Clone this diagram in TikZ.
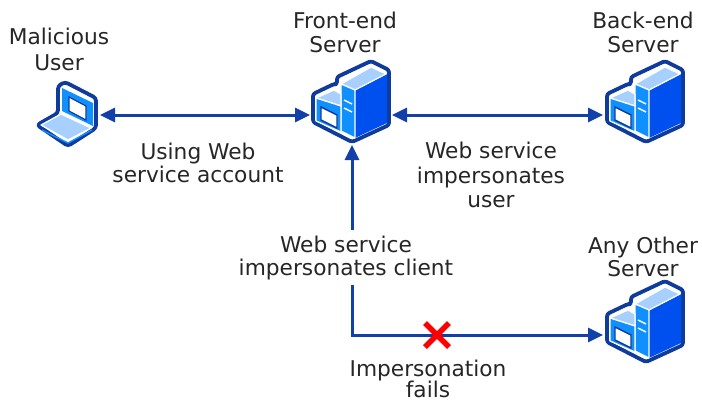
\documentclass[tikz,border=0pt]{standalone}
\usepackage{fontspec}
\setmainfont{DejaVu Sans}
\usetikzlibrary{arrows.meta}
\definecolor{navy}{HTML}{0F3C9C}
\definecolor{wire}{HTML}{1040A8}
\definecolor{sky}{HTML}{A8D0FF}
\definecolor{mid}{HTML}{1090FF}
\definecolor{deep}{HTML}{0050F0}
\tikzset{
  lbl/.style={font=\fontsize{21.7pt}{23.6pt}\selectfont,align=center,text=black!85,inner sep=0pt},
  wirearrow/.style={draw=wire,line width=3pt,{Triangle[length=15pt,width=14pt]}-{Triangle[length=15pt,width=14pt]}},
  wireend/.style={draw=wire,line width=3pt,-{Triangle[length=15pt,width=14pt]}},
  edgeline/.style={draw=white,line width=1.2pt,line join=round},
  pics/servericon/.style={code={
    \path[draw=navy,line width=3.8pt,line join=round,rounded corners=2.5pt,fill=white]
      (0,1) -- (-39,-19) -- (-39,-47) -- (-18,-57) -- (-15,-57) -- (-15,-64) -- (19,-80) -- (37,-71) -- (37,-16) -- cycle;
    \path[fill=deep] (3,-3) -- (35,-18) -- (35,-67) -- (3,-51) -- cycle;
    \path[fill=sky,edgeline] (-11,-57) -- (19,-74) -- (34,-67) -- (3,-51) -- cycle;
    \path[fill=mid,edgeline] (-11,-10) -- (3,-3) -- (3,-51) -- (-11,-57) -- cycle;
    \path[fill=sky,edgeline] (-36,-43) -- (-18,-51) -- (-11,-47) -- (-11,-35) -- cycle;
    \path[fill=mid,edgeline] (-36,-20) -- (-11,-9) -- (-11,-35) -- (-36,-43) -- cycle;
    \path[fill=white,draw=navy,line width=1.4pt] (-31,-34) -- (-15,-26) -- (-15,-13) -- (-31,-21) -- cycle;
    \path[draw=white,line width=1.5pt] (-8,-41) -- (0,-37) (-8,-33) -- (0,-29);
  }},
  pics/laptopicon/.style={code={
    \path[draw=navy,line width=3.8pt,line join=round,rounded corners=3pt,fill=white]
      (37,125) -- (58,113) -- (58,86) -- (65,82) -- (96,98) -- (96,128) -- (68,146) -- cycle;
    \path[fill=mid] (62,111) -- (62,88) -- (93,103) -- (93,126) -- cycle;
    \path[fill=white,draw=navy,line width=1.2pt] (69,111) -- (69,97) -- (86,106) -- (86,120) -- cycle;
    \path[fill=sky,edgeline] (41,125) -- (61,114) -- (91,128) -- (68,140) -- cycle;
    \path[draw=mid,line width=1.4pt] (42,130) -- (68,143) -- (92,130);
  }}
}
\begin{document}
\begin{tikzpicture}[x=1pt,y=-1pt]
\useasboundingbox (0,0) rectangle (702,400);
\path[fill=white] (0,0) rectangle (702,400);
\coordinate (laptop) at (100,115);
\coordinate (frontL) at (310,115);
\coordinate (frontR) at (392,115);
\coordinate (frontB) at (352,145);
\coordinate (backL) at (603,115);
\coordinate (otherL) at (603,335);
\coordinate (split) at (352,285);
\coordinate (corner) at (352,335);
\coordinate (splitTop) at (352,230);
\draw[wirearrow] (laptop) -- (frontL);
\draw[wirearrow] (frontR) -- (backL);
\draw[wireend] (splitTop) -- (frontB);
\draw[wireend,line join=miter] (split) -- (corner) -- (otherL);
\pic at (0,0) {laptopicon};
\pic at (352,141) {servericon};
\pic at (646,141) {servericon};
\pic at (646,361) {servericon};
\node (cross) at (437,335) {};
\draw[red,line width=5.4pt] (425,323) -- (449,347) (449,323) -- (425,347);
\node[lbl] (malicious) at (59,49) {Malicious\\[2.5pt]User};
\node[lbl] (frontlbl) at (345,32.5) {Front-end\\Server};
\node[lbl] (backlbl) at (643,32.5) {Back-end\\Server};
\node[lbl] (otherlbl) at (643,257) {Any Other\\Server};
\node[lbl] (using) at (198,163) {Using Web\\service account};
\node[lbl] (webimp) at (491,175) {Web service\\[1pt]impersonates\\[1pt]user};
\node[lbl] (webclient) at (346,258) {Web service\\impersonates client};
\node[lbl] (fails) at (428,379) {Impersonation\\[-2pt]fails};
\end{tikzpicture}
\end{document}
